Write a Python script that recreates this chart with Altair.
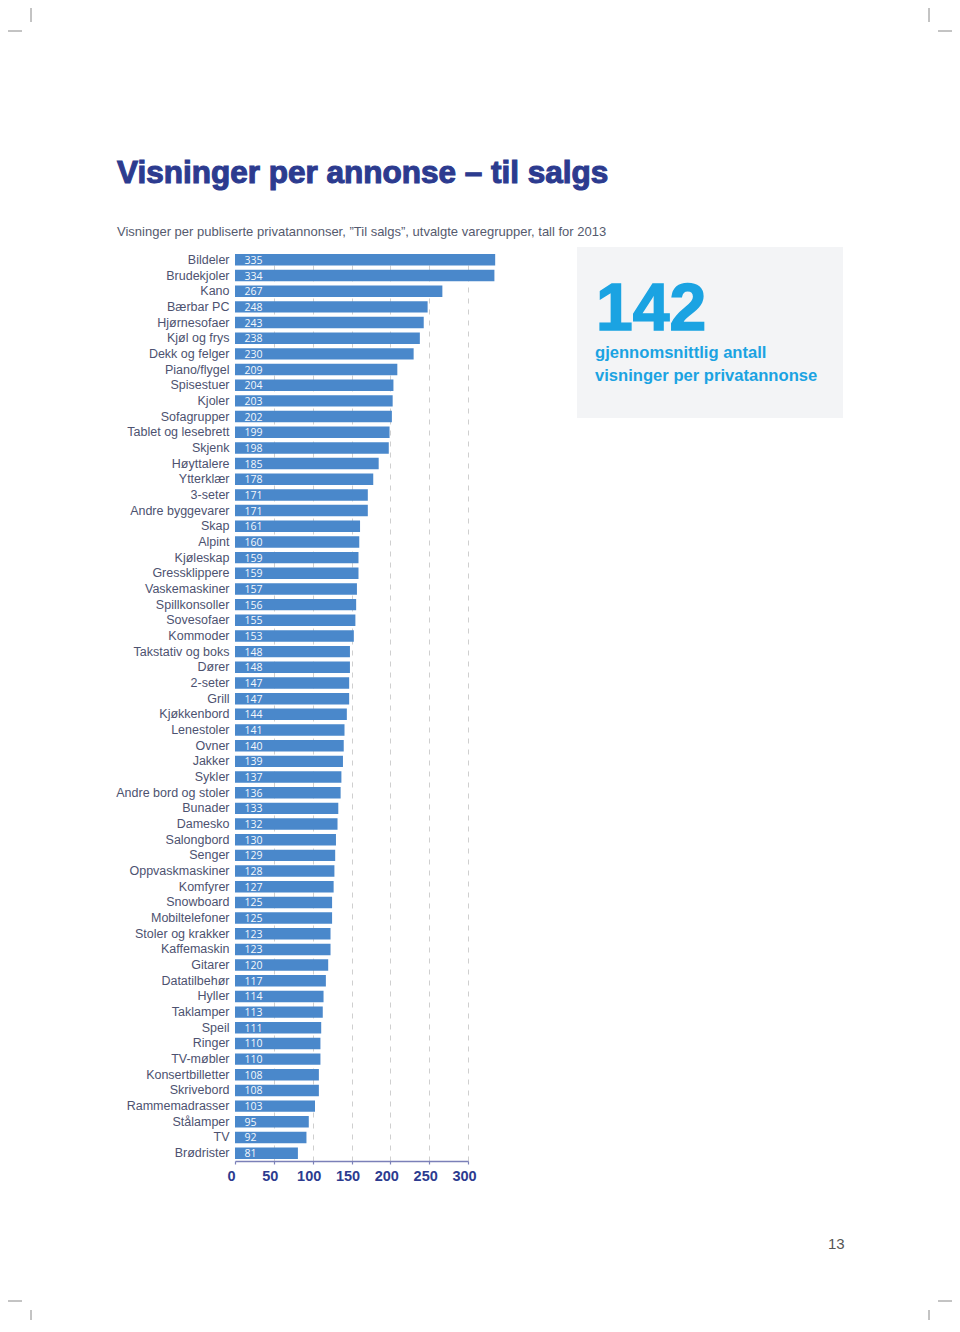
import altair as alt
import pandas as pd

categories = [
    "Bildeler", "Brudekjoler", "Kano", "Bærbar PC", "Hjørnesofaer", "Kjøl og frys",
    "Dekk og felger", "Piano/flygel", "Spisestuer", "Kjoler", "Sofagrupper",
    "Tablet og lesebrett", "Skjenk", "Høyttalere", "Ytterklær", "3-seter",
    "Andre byggevarer", "Skap", "Alpint", "Kjøleskap", "Gressklippere",
    "Vaskemaskiner", "Spillkonsoller", "Sovesofaer", "Kommoder", "Takstativ og boks",
    "Dører", "2-seter", "Grill", "Kjøkkenbord", "Lenestoler", "Ovner", "Jakker",
    "Sykler", "Andre bord og stoler", "Bunader", "Damesko", "Salongbord", "Senger",
    "Oppvaskmaskiner", "Komfyrer", "Snowboard", "Mobiltelefoner", "Stoler og krakker",
    "Kaffemaskin", "Gitarer", "Datatilbehør", "Hyller", "Taklamper", "Speil",
    "Ringer", "TV-møbler", "Konsertbilletter", "Skrivebord", "Rammemadrasser",
    "Stålamper", "TV", "Brødrister",
]
values = [
    335, 334, 267, 248, 243, 238, 230, 209, 204, 203, 202, 199, 198, 185, 178, 171,
    171, 161, 160, 159, 159, 157, 156, 155, 153, 148, 148, 147, 147, 144, 141, 140,
    139, 137, 136, 133, 132, 130, 129, 128, 127, 125, 125, 123, 123, 120, 117, 114,
    113, 111, 110, 110, 108, 108, 103, 95, 92, 81,
]
x_ticks = [0, 50, 100, 150, 200, 250, 300]

title_text = "Visninger per annonse – til salgs"
subtitle_text = "Visninger per publiserte privatannonser, \u201dTil salgs\u201d, utvalgte varegrupper, tall for 2013"
big_number = "142"
box_lines = ["gjennomsnittlig antall", "visninger per privatannonse"]
page_number = "13"

df = pd.DataFrame({"kategori": categories, "visninger": values})
one = pd.DataFrame({"a": [0]})

NAVY = "#2c3b8f"
BAR = "#4a88cb"
CYAN = "#1ba3e2"
LABEL = "#4d5270"

xscale = alt.Scale(domain=[0, 300], nice=False, zero=True)
yscale = alt.Scale(paddingInner=0.27, paddingOuter=0.135)

bars = alt.Chart(df).mark_bar(color=BAR, clip=False).encode(
    x=alt.X("visninger:Q", scale=xscale,
            axis=alt.Axis(values=x_ticks, title=None, grid=True,
                          gridDash=[5, 6], gridColor="#cfcfcf", gridWidth=1,
                          gridOpacity=alt.condition("datum.value == 0", alt.value(0), alt.value(1)),
                          domainColor="#7b80b8", domainWidth=1.5,
                          tickColor="#7b80b8", tickSize=3, tickWidth=1.2,
                          labelFont="Liberation Sans", labelFontWeight="bold",
                          labelFontSize=14.5, labelColor=NAVY, labelPadding=5,
                          labelOffset=-4, labelFlush=False)),
    y=alt.Y("kategori:N", sort=None, scale=yscale,
            axis=alt.Axis(title=None, ticks=False, domain=False,
                          labelFont="Liberation Sans", labelFontSize=12.5,
                          labelColor=LABEL, labelPadding=6, labelLimit=0)),
)

value_text = alt.Chart(df).mark_text(
    align="left", baseline="middle", dy=1, font="Open Sans", fontSize=10.5,
    color="white", opacity=0.95,
).encode(
    x=alt.value(9.5),
    y=alt.Y("kategori:N", sort=None, scale=yscale),
    text=alt.Text("visninger:Q"),
)

title = alt.Chart(one).mark_text(
    text=title_text, align="left", baseline="alphabetic", font="Liberation Sans",
    fontWeight="bold", fontSize=31.5, color=NAVY, stroke=NAVY, strokeWidth=1.1,
).encode(x=alt.value(-118), y=alt.value(-69))

subtitle = alt.Chart(one).mark_text(
    text=subtitle_text, align="left", baseline="alphabetic", font="Liberation Sans",
    fontSize=13, color="#555a6e",
).encode(x=alt.value(-118), y=alt.value(-16))

box = alt.Chart(one).mark_rect(color="#f3f4f6").encode(
    x=alt.value(342), x2=alt.value(608), y=alt.value(-5), y2=alt.value(166)
)

big = alt.Chart(one).mark_text(
    text=big_number, align="left", baseline="alphabetic", font="Liberation Sans",
    fontWeight="bold", fontSize=66, color=CYAN, stroke=CYAN, strokeWidth=1.5,
).encode(x=alt.value(361), y=alt.value(78))

line1 = alt.Chart(one).mark_text(
    text=box_lines[0], align="left", baseline="alphabetic", font="Liberation Sans",
    fontWeight="bold", fontSize=16.6, color=CYAN,
).encode(x=alt.value(360), y=alt.value(106))

line2 = alt.Chart(one).mark_text(
    text=box_lines[1], align="left", baseline="alphabetic", font="Liberation Sans",
    fontWeight="bold", fontSize=16.6, color=CYAN,
).encode(x=alt.value(360), y=alt.value(129))

pnum = alt.Chart(one).mark_text(
    text=page_number, align="left", baseline="alphabetic", font="Liberation Sans",
    fontSize=15, color="#555555",
).encode(x=alt.value(593), y=alt.value(997))

def crop(x1, x2, y1, y2):
    return alt.Chart(one).mark_rule(color="#888888", strokeWidth=1).encode(
        x=alt.value(x1), x2=alt.value(x2), y=alt.value(y1), y2=alt.value(y2)
    )

marks = [
    crop(-204, -204, -252, -230), crop(-235, -213, -221, -221),
    crop(694, 694, -252, -230), crop(703, 725, -221, -221),
    crop(-204, -204, 1058, 1080), crop(-235, -213, 1049, 1049),
    crop(694, 694, 1058, 1080), crop(703, 725, 1049, 1049),
]

chart = alt.layer(box, bars, value_text, title, subtitle, big, line1, line2, pnum, *marks).properties(
    width=233, height=909,
    autosize=alt.AutoSizeParams(type="none"),
    padding={"left": 227, "top": 244, "right": 484, "bottom": 159},
    background="white",
).configure_view(stroke=None)

chart.save("out.html", embed_options={"renderer": "svg", "actions": False})
